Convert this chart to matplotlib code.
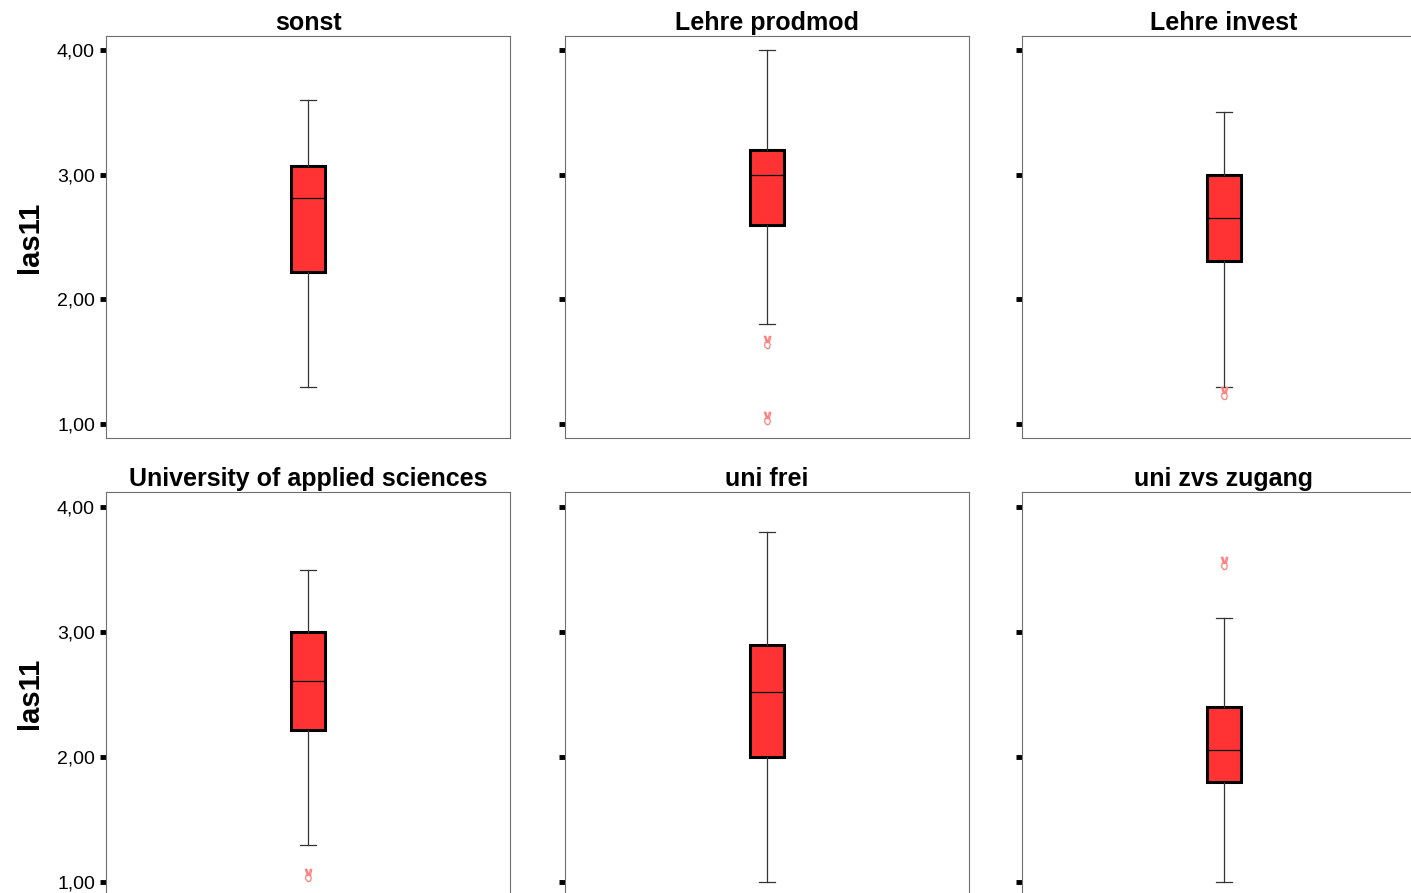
import matplotlib
matplotlib.use("Agg")
import matplotlib.pyplot as plt
from matplotlib.path import Path

plt.rcParams['font.family'] = ['Liberation Sans', 'DejaVu Sans']

titles = ["sonst", "Lehre prodmod", "Lehre invest",
          "University of applied sciences", "uni frei", "uni zvs zugang"]
whis_lo = [1.30, 1.80, 1.30, 1.30, 1.00, 1.00]
q1 = [2.22, 2.60, 2.31, 2.22, 2.00, 1.80]
median = [2.81, 3.00, 2.65, 2.61, 2.52, 2.06]
q3 = [3.07, 3.20, 3.00, 3.00, 2.90, 2.40]
whis_hi = [3.60, 4.00, 3.50, 3.50, 3.80, 3.11]
outliers = [[], [1.66, 1.05], [1.25], [1.06], [], [3.55]]
y_ticks = [1.0, 2.0, 3.0, 4.0]
y_tick_labels = ["1,00", "2,00", "3,00", "4,00"]
y_label = "las11"

# the outlier symbol in the original is a small "victory hand" glyph,
# which none of the installed fonts has -> hand-made marker path
M, L, C = Path.MOVETO, Path.LINETO, Path.CLOSEPOLY
hand_verts = [(-0.15, 0.0), (-0.5, 1.0), (-0.28, 1.0), (0.0, 0.15),
              (0.08, 0.1), (0.3, 1.0), (0.52, 0.95), (0.3, 0.0),
              (-0.4, 0.0), (-0.45, -0.6), (-0.1, -1.0), (0.3, -0.9),
              (0.45, -0.4), (0.3, 0.0), (-0.4, 0.0)]
hand_codes = [M, L, L, L, M, L, L, L, M, L, L, L, L, L, C]
hand = Path(hand_verts, hand_codes)

W, H = 1411, 893
fig = plt.figure(figsize=(W / 100, H / 100), dpi=100)

col_left = [106, 565, 1022]
ax_w = 404
row_top = [36, 492]
ax_h = 402
row_ylim = [(0.888, 4.112), (0.904, 4.12)]

for i, title in enumerate(titles):
    r, c = divmod(i, 3)
    left = col_left[c] / W
    bottom = 1 - (row_top[r] + ax_h) / H
    ax = fig.add_axes([left, bottom, ax_w / W, ax_h / H])

    stats = [dict(med=median[i], q1=q1[i], q3=q3[i],
                  whislo=whis_lo[i], whishi=whis_hi[i], fliers=[])]
    ax.bxp(stats, positions=[1], widths=0.165, patch_artist=True,
           showfliers=False,
           boxprops=dict(facecolor='#ff3333', edgecolor='black', linewidth=2.2),
           medianprops=dict(color='black', linewidth=0.9),
           whiskerprops=dict(color='#333333', linewidth=0.9),
           capprops=dict(color='#333333', linewidth=0.9),
           capwidths=0.075)
    if outliers[i]:
        ax.plot([1] * len(outliers[i]), outliers[i], linestyle='none',
                marker=hand, markersize=9, markerfacecolor='none',
                markeredgecolor='#ff8080', markeredgewidth=0.9)

    ax.set_xlim(0, 2)
    ax.set_ylim(*row_ylim[r])
    ax.set_xticks([])
    ax.set_yticks(y_ticks)
    if c == 0:
        ax.set_yticklabels(y_tick_labels, fontsize=14)
        ax.set_ylabel(y_label, fontsize=21, fontweight='bold', labelpad=9)
    else:
        ax.set_yticklabels([])
    ax.tick_params(axis='y', length=4.5, width=3.5, pad=3.5, color='black')
    for s in ax.spines.values():
        s.set_color('#6e6e6e')
        s.set_linewidth(0.8)
    ax.set_title(title, fontsize=18, fontweight='bold', pad=4)

fig.savefig("out.png", dpi=100)
